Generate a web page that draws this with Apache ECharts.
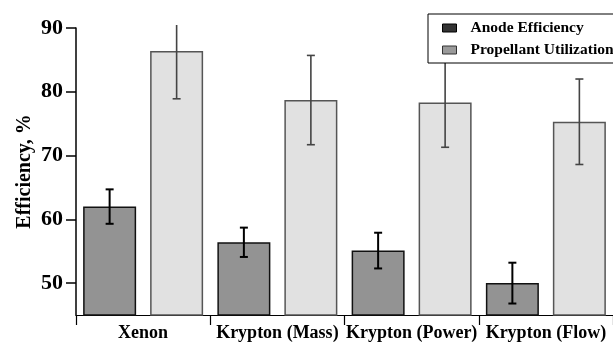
<!DOCTYPE html>
<html>
<head>
<meta charset="utf-8">
<script src="https://cdn.jsdelivr.net/npm/echarts@6/dist/echarts.min.js"></script>
<style>
  html, body { margin: 0; padding: 0; background: #ffffff; }
  #chart { width: 613px; height: 342px; }
</style>
</head>
<body>
<div id="chart"></div>
<script>
// Thruster efficiency comparison: xenon vs. krypton operating points
const categories = ['Xenon', 'Krypton (Mass)', 'Krypton (Power)', 'Krypton (Flow)'];
const anodeEfficiency = [62.0, 56.4, 55.1, 50.0];
const anodeError = [2.7, 2.3, 2.8, 3.2];
const propellantUtilization = [86.4, 78.7, 78.3, 75.3];
const propellantError = [7.5, 7.0, 7.0, 6.7];
const yTicks = [50, 60, 70, 80, 90];

const SERIF = "'Liberation Serif', 'Times New Roman', 'DejaVu Serif', serif";
const BAR_W = 53;
const BAR_GAP = 14;

function errorData(values, errs) {
  return values.map((v, i) => [i, v - errs[i], v + errs[i]]);
}

function errorBarRenderer(side, color, width) {
  return function (params, api) {
    const idx = api.value(0);
    const lo = api.coord([idx, api.value(1)]);
    const hi = api.coord([idx, api.value(2)]);
    const cx = lo[0] + side * (BAR_W + BAR_GAP) / 2;
    const ceiling = params.coordSys.y - 3;
    let yHi = hi[1];
    const clipped = yHi < ceiling;
    if (clipped) yHi = ceiling;
    const style = { stroke: color, lineWidth: width };
    const cap = 4;
    const children = [
      { type: 'line', shape: { x1: cx, y1: lo[1], x2: cx, y2: yHi }, style },
      { type: 'line', shape: { x1: cx - cap, y1: lo[1], x2: cx + cap, y2: lo[1] }, style }
    ];
    if (!clipped) {
      children.push({ type: 'line', shape: { x1: cx - cap, y1: yHi, x2: cx + cap, y2: yHi }, style });
    }
    return { type: 'group', children };
  };
}

const chart = echarts.init(document.getElementById('chart'), null, { renderer: 'canvas' });

chart.setOption({
  animation: false,
  backgroundColor: '#ffffff',
  textStyle: { fontFamily: SERIF },
  grid: { left: 76, right: 0, top: 28, bottom: 27, containLabel: false, outerBoundsMode: 'none' },
  legend: {
    left: 428,
    top: 14,
    orient: 'vertical',
    backgroundColor: '#ffffff',
    borderColor: '#000000',
    borderWidth: 1,
    borderRadius: 0,
    padding: [6, 14, 5, 14],
    itemGap: 6,
    itemWidth: 14,
    itemHeight: 8,
    icon: 'rect',
    textStyle: { fontFamily: SERIF, fontWeight: 'bold', fontSize: 15.5, color: '#000000', padding: [0, 0, 0, 9] },
    data: [
      { name: 'Anode Efficiency', itemStyle: { color: '#333333', borderColor: '#000000', borderWidth: 1 } },
      { name: 'Propellant Utilization', itemStyle: { color: '#9a9a9a', borderColor: '#333333', borderWidth: 1 } }
    ]
  },
  xAxis: {
    type: 'category',
    data: categories,
    axisLine: { show: true, lineStyle: { color: '#000000', width: 1.2 } },
    axisTick: { show: true, length: 10, lineStyle: { color: '#000000', width: 1.2 } },
    axisLabel: { fontFamily: SERIF, fontWeight: 'bold', fontSize: 18, color: '#000000', margin: 9, interval: 0 },
    splitLine: { show: false }
  },
  yAxis: {
    type: 'value',
    min: 45,
    max: 90,
    name: 'Efficiency, %',
    nameLocation: 'middle',
    nameGap: 41,
    nameMoveOverlap: false,
    nameTextStyle: { fontFamily: SERIF, fontWeight: 'bold', fontSize: 20, color: '#000000' },
    axisLine: { show: true, lineStyle: { color: '#000000', width: 1.5 } },
    axisTick: { show: true, length: 10, customValues: yTicks, lineStyle: { color: '#000000', width: 1.5 } },
    axisLabel: { fontFamily: SERIF, fontWeight: 'bold', fontSize: 22, color: '#000000', margin: 13, customValues: yTicks },
    splitLine: { show: false }
  },
  series: [
    {
      name: 'Anode Efficiency',
      type: 'bar',
      data: anodeEfficiency,
      barWidth: BAR_W,
      barGap: (BAR_GAP / BAR_W * 100).toFixed(1) + '%',
      itemStyle: { color: '#939393', borderColor: '#111111', borderWidth: 1.5 }
    },
    {
      name: 'Propellant Utilization',
      type: 'bar',
      data: propellantUtilization,
      barWidth: BAR_W,
      itemStyle: { color: '#e1e1e1', borderColor: '#555555', borderWidth: 1.5 }
    },
    {
      type: 'custom',
      name: 'anodeErr',
      data: errorData(anodeEfficiency, anodeError),
      encode: { x: 0, y: [1, 2] },
      renderItem: errorBarRenderer(-1, '#000000', 2),
      clip: false,
      z: 3
    },
    {
      type: 'custom',
      name: 'propErr',
      data: errorData(propellantUtilization, propellantError),
      encode: { x: 0, y: [1, 2] },
      renderItem: errorBarRenderer(1, '#444444', 1.6),
      clip: false,
      z: 3
    }
  ]
});
</script>
</body>
</html>
